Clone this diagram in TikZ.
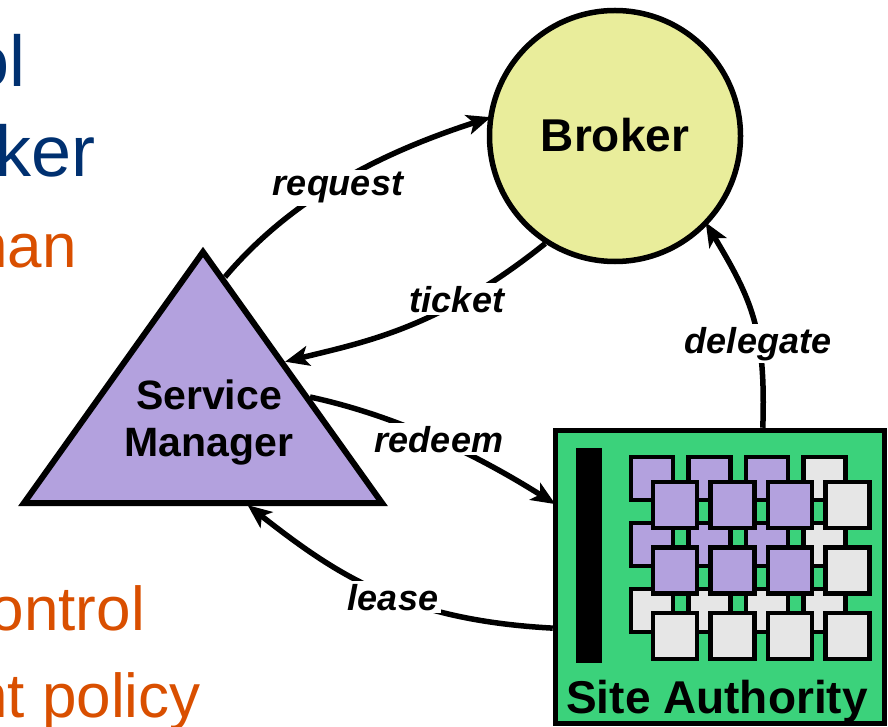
\documentclass[tikz,border=0pt]{standalone}
\usepackage{fontspec}
\setmainfont{Liberation Sans}
\usepackage{tikz}
\usetikzlibrary{arrows.meta}
\definecolor{brokeryellow}{HTML}{E9ED9B}
\definecolor{smpurple}{HTML}{B3A1DE}
\definecolor{sagreen}{HTML}{3BD27B}
\definecolor{cellgray}{HTML}{E6E6E6}
\definecolor{slideblue}{HTML}{003070}
\definecolor{slideorange}{HTML}{D94F00}

\begin{document}
\begin{tikzpicture}[x=1pt,y=-1pt]
    \tikzstyle{msg}=[line width=5.5pt,shorten >=-3pt,-{Stealth[length=24pt,width=20pt,inset=6pt]}]
    \tikzstyle{lbl}=[fill=white,inner sep=3pt,anchor=base,font=\fontsize{36}{36}\selectfont\bfseries\itshape]
    \tikzstyle{title}=[inner sep=0pt,anchor=base,font=\fontsize{46}{50}\selectfont\bfseries]
    \tikzstyle{slide}=[inner sep=0pt,anchor=base east]
    \tikzstyle{cell}=[draw,line width=4.5pt]
    \useasboundingbox (0,0) rectangle (888,727);
    % slide text cut off at the left
    \node[slide,text=slideblue,font=\fontsize{72}{72}\selectfont] (ol) at (26,87) {ol};
    \node[slide,text=slideblue,font=\fontsize{72}{72}\selectfont] (ker) at (96,177) {ker};
    \node[slide,text=slideorange,font=\fontsize{62}{62}\selectfont] (nan) at (77,268) {nan};
    \node[slide,text=slideorange,font=\fontsize{62}{62}\selectfont] (ontrol) at (145,630) {ontrol};
    \node[slide,text=slideorange,font=\fontsize{62}{62}\selectfont] (policy) at (201,717) {nt policy};
    % broker
    \node[circle,draw,line width=5.5pt,fill=brokeryellow,minimum size=251pt,inner sep=0pt] (broker) at (615,136) {};
    \node[title] (brokertxt) at (615,152) {Broker};
    % service manager
    \draw[line width=6pt,fill=smpurple] (203,252) -- (382,503) -- (24,503) -- cycle;
    \node[align=center,inner sep=0pt,font=\fontsize{41}{47}\selectfont\bfseries] (sm) at (209,422) {Service\\Manager};
    \coordinate (smreq) at (225,277);
    \coordinate (smtkt) at (288,361);
    \coordinate (smrdm) at (310,397);
    \coordinate (smlse) at (250,507);
    % site authority
    \node[draw,line width=5.5pt,fill=sagreen,minimum width=329pt,minimum height=293pt,inner sep=0pt] (sa) at (720,577) {};
    \fill (576,448) rectangle (602,663);
    \foreach \j in {0,1,2}
        \foreach \i in {0,...,3} {
            \pgfmathtruncatemacro\lit{and(\i<3,\j<2)}
            \ifnum\lit=1 \def\cellcol{smpurple}\else\def\cellcol{cellgray}\fi
            \draw[cell,fill=\cellcol] ({631+57.5*\i},{457+66*\j}) rectangle ++(42,43);
        }
    \foreach \j in {0,1,2}
        \foreach \i in {0,...,3} {
            \pgfmathtruncatemacro\lit{and(\i<3,\j<2)}
            \ifnum\lit=1 \def\cellcol{smpurple}\else\def\cellcol{cellgray}\fi
            \draw[cell,fill=\cellcol] ({653+57.5*\i},{482+65.5*\j}) rectangle ++(44,46);
        }
    \node[title] (satxt) at (717,713) {Site Authority};
    % messages
    \draw[msg] (smreq) .. controls (296,193) and (390,150) .. (broker.172);
    \draw[msg] (broker.237) .. controls (440,328) and (365,342) .. (smtkt);
    \draw[msg] (smrdm) .. controls (398,416) and (477,455) .. (sa.156);
    \draw[msg] (sa.197) .. controls (403,620) and (337,575) .. (smlse);
    \draw[msg] (sa.74) .. controls (766,330) and (752,300) .. (broker.-44);
    \node[lbl] (req) at (338,196) {request};
    \node[lbl] (tkt) at (457,312) {ticket};
    \node[lbl] (rdm) at (439,452) {redeem};
    \node[lbl] (lse) at (393,610) {lease};
    \node[lbl] (dlg) at (758,353) {delegate};
\end{tikzpicture}
\end{document}
